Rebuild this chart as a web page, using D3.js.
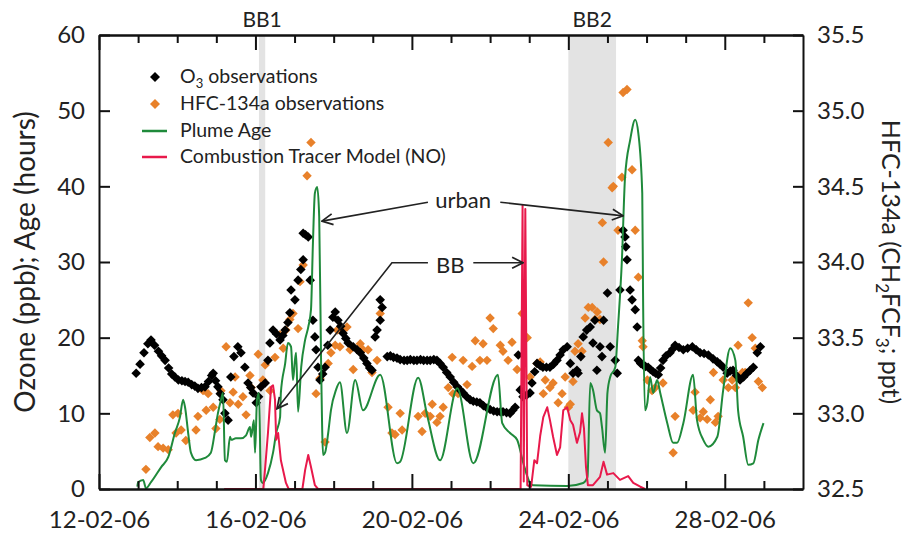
<!DOCTYPE html>
<html><head><meta charset="utf-8">
<script src="https://cdn.jsdelivr.net/npm/d3@7"></script>
<style>
body{margin:0;background:#fff}
svg{display:block;font-family:Lato,'Open Sans',sans-serif}
</style>
</head><body>
<svg id="c" width="909" height="535"></svg>
<script>
// ---------- data (day = fractional day of February 2006) ----------
const xMajorTicks = [12, 16, 20, 24, 28];
const xMinorTicks = [13,14,15,17,18,19,21,22,23,25,26,27,29];
const leftTicks = [0, 10, 20, 30, 40, 50, 60];
const rightTicks = [32.5, 33.0, 33.5, 34.0, 34.5, 35.0, 35.5];
const bbPeriods = [
  {label: "BB1", start: 16.09, end: 16.25},
  {label: "BB2", start: 24.0, end: 25.22}
];
const seriesNames = ["O3 observations", "HFC-134a observations", "Plume Age", "Combustion Tracer Model (NO)"];

const o3Obs = [[12.95,15.3],[13.05,16.5],[13.15,18.0],[13.25,19.2],[13.33,19.7],[13.42,19.0],[13.52,18.2],[13.6,17.6],[13.69,17.0],[13.78,16.0],[13.86,15.2],[13.94,14.8],[14.03,14.4],[14.12,14.3],[14.2,14.2],[14.28,14.1],[14.37,13.8],[14.45,13.6],[14.53,13.3],[14.62,13.4],[14.71,13.5],[14.8,14.2],[14.88,15.0],[14.92,15.3],[14.98,14.3],[15.04,13.5],[15.1,12.6],[15.17,11.8],[15.22,10.0],[15.3,9.1],[15.37,14.8],[15.45,17.5],[15.55,18.8],[15.63,18.0],[15.73,16.1],[15.81,14.0],[15.88,13.4],[15.94,12.7],[16.02,11.4],[16.08,12.2],[16.14,13.5],[16.25,14.0],[16.32,17.0],[16.37,19.3],[16.45,21.0],[16.54,20.5],[16.63,19.7],[16.7,20.3],[16.76,21.0],[16.83,22.0],[16.88,23.3],[16.91,26.3],[17.01,25.0],[17.09,27.6],[17.16,29.0],[17.22,30.3],[17.22,33.8],[17.28,33.6],[17.35,33.3],[17.4,27.6],[17.47,22.3],[17.52,20.1],[17.55,18.4],[17.6,16.1],[17.65,14.4],[17.72,15.2],[17.78,16.1],[17.85,19.0],[17.91,21.0],[17.98,22.7],[18.04,23.4],[18.11,22.3],[18.18,21.5],[18.24,20.6],[18.31,19.9],[18.37,19.3],[18.5,18.8],[18.6,18.4],[18.68,18.0],[18.77,17.3],[18.85,16.6],[18.92,16.0],[18.98,15.7],[19.06,20.1],[19.11,21.0],[19.19,22.3],[19.19,25.0],[19.24,24.0],
[19.37,17.5],[19.45,17.6],[19.53,17.4],[19.62,17.3],[19.7,17.1],[19.8,17.0],[19.88,17.0],[19.96,17.1],[20.05,17.0],[20.13,17.0],[20.22,17.1],[20.3,17.0],[20.39,17.0],[20.47,17.0],[20.56,17.1],[20.64,17.0],[20.72,16.6],[20.8,16.1],[20.89,15.4],[20.98,14.8],[21.07,14.1],[21.16,13.5],[21.23,13.1],[21.31,12.7],[21.4,12.2],[21.49,11.8],[21.57,11.6],[21.66,11.5],[21.74,11.4],[21.83,11.0],[21.92,10.7],[22.0,10.5],[22.09,10.3],[22.18,10.2],[22.26,10.2],[22.33,10.2],[22.42,10.1],[22.51,10.0],[22.58,10.4],[22.64,10.8],[22.72,17.7],[22.77,13.1],[22.84,12.2],[22.93,12.4],[23.02,12.7],[23.07,14.0],[23.14,15.5],[23.2,16.6],[23.28,16.3],[23.35,16.1],[23.44,16.1],[23.53,16.1],[23.62,16.5],[23.71,17.0],[23.79,17.7],[23.87,18.4],[23.97,18.8],[24.05,16.6],[24.12,15.3],[24.22,15.7],[24.25,15.3],[24.32,17.5],[24.38,20.1],[24.47,21.0],[24.56,21.4],[24.63,19.3],[24.68,22.3],[24.73,15.7],[24.81,18.8],[24.86,17.5],[24.9,22.3],[25.0,25.9],[25.07,18.8],[25.2,17.0],[25.25,15.3],[25.32,26.3],[25.4,34.2],[25.45,33.3],[25.47,32.0],[25.5,30.3],[25.58,26.3],[25.63,25.0],[25.71,23.7],[25.76,21.4],[25.79,17.0],[25.85,16.6],[25.91,16.4],[25.97,16.2],[26.04,16.1],[26.1,15.8],[26.17,15.5],[26.23,15.3],[26.3,15.1],[26.36,16.0],[26.42,17.0],[26.5,17.6],[26.6,18.0],[26.67,18.5],[26.73,19.0],[26.83,18.7],[26.94,18.4],[27.05,18.6],[27.17,18.8],[27.27,18.4],[27.37,18.0],[27.47,17.9],[27.58,17.7],[27.7,17.2],[27.81,16.8],[27.88,16.5],[27.96,16.1],[28.06,15.3],[28.14,15.6],[28.21,15.7],[28.3,15.0],[28.39,14.4],[28.48,14.8],[28.57,15.3],[28.65,15.7],[28.73,16.1],[28.83,18.0],[28.91,18.8]];

const hfcObs = [[13.2,32.63],[13.3,32.84],[13.43,32.87],[13.51,32.78],[13.64,32.77],[13.77,32.76],[13.89,32.99],[13.97,32.87],[14.02,33.0],[14.1,32.89],[14.22,32.82],[14.48,32.89],[14.53,32.98],[14.66,33.15],[14.74,33.02],[14.79,33.13],[14.92,33.04],[14.99,32.9],[15.09,32.96],[15.12,33.15],[15.25,33.44],[15.35,33.07],[15.43,33.14],[15.48,33.24],[15.56,33.06],[15.68,33.11],[15.76,32.99],[15.86,33.25],[15.89,33.17],[16.07,33.39],[16.19,33.22],[16.25,33.32],[16.37,33.15],[16.5,33.37],[16.63,33.52],[16.71,33.43],[16.78,33.55],[16.88,33.62],[16.96,33.66],[17.09,33.56],[17.14,33.87],[17.22,33.98],[17.32,34.57],[17.42,34.79],[17.55,33.13],[17.65,33.23],[17.78,32.81],[17.86,33.33],[17.93,33.4],[18.04,33.45],[18.09,33.55],[18.16,33.44],[18.24,33.55],[18.34,33.57],[18.42,33.42],[18.5,33.29],[18.68,33.46],[18.75,33.42],[18.88,33.42],[18.98,33.27],[19.11,33.35],[19.19,33.66],[19.39,33.04],[19.49,32.87],[19.57,32.86],[19.7,33.0],[19.75,32.89],[20.16,32.98],[20.26,32.88],[20.34,33.0],[20.47,32.98],[20.52,33.06],[20.64,32.94],[20.72,32.98],[20.8,33.04],[20.93,33.17],[21.03,33.37],[21.05,33.13],[21.18,33.13],[21.31,33.35],[21.41,33.19],[21.54,33.31],[21.62,33.48],[21.74,33.35],[21.82,33.46],[21.92,33.35],[22.0,33.63],[22.08,33.56],[22.26,33.45],[22.33,33.41],[22.46,33.35],[22.56,33.47],[22.69,33.29],[22.82,33.66],[22.95,33.5],[23.02,33.24],[23.2,33.33],[23.28,33.34],[23.36,33.13],[23.41,33.22],[23.53,33.17],[23.61,33.2],[23.74,33.07],[23.84,33.13],[23.92,33.24],[24.0,33.04],[24.05,33.06],[24.12,33.21],[24.17,33.41],[24.25,33.46],[24.35,33.41],[24.43,33.63],[24.51,33.7],[24.61,33.7],[24.68,33.62],[24.74,33.67],[24.81,33.62],[24.87,34.26],[24.9,34.0],[25.02,34.79],[25.12,34.49],[25.15,34.5],[25.27,34.21],[25.37,34.56],[25.4,35.12],[25.5,35.14],[25.63,34.61],[25.71,34.21],[25.79,33.9],[25.89,33.48],[25.91,33.44],[26.02,33.22],[26.14,33.15],[26.22,33.17],[26.42,33.2],[26.68,32.74],[26.73,32.98],[27.19,33.02],[27.24,33.14],[27.37,32.97],[27.45,33.01],[27.55,32.96],[27.63,33.09],[27.71,33.27],[27.76,32.94],[27.83,32.98],[27.96,33.22],[28.09,33.17],[28.19,33.22],[28.27,33.17],[28.34,33.45],[28.45,33.27],[28.52,33.27],[28.6,33.73],[28.7,33.5],[28.78,33.43],[28.86,33.21],[28.96,33.17]];

const plumeAge = [[12.98,0.3],[13.0,0.9],[13.13,1.2],[13.2,0.1],[13.33,0.9],[13.59,2.9],[13.77,4.2],[13.94,7.4],[14.07,9.5],[14.15,11.8],[14.2,10.8],[14.28,7.4],[14.35,4.8],[14.48,3.8],[14.71,4.1],[14.86,4.8],[14.97,7.8],[15.04,10.0],[15.12,11.8],[15.17,12.7],[15.22,3.8],[15.27,3.6],[15.35,6.9],[15.38,6.5],[15.5,6.7],[15.63,6.7],[15.76,7.1],[15.86,8.2],[15.89,6.9],[15.96,9.1],[15.99,4.8],[16.04,11.8],[16.09,12.7],[16.14,1.2],[16.19,0.8],[16.32,2.1],[16.45,4.8],[16.53,7.4],[16.63,9.5],[16.65,12.7],[16.76,16.6],[16.83,19.3],[16.91,18.8],[16.96,14.4],[17.01,17.0],[17.04,18.0],[17.09,10.2],[17.17,16.1],[17.27,19.7],[17.35,21.4],[17.42,23.7],[17.47,32.5],[17.52,39.1],[17.58,39.9],[17.63,36.0],[17.68,16.1],[17.73,4.5],[17.78,4.8],[17.86,7.4],[17.93,10.4],[18.06,13.1],[18.16,14.1],[18.34,7.4],[18.55,14.4],[18.75,10.4],[19.19,15.1],[19.62,3.4],[19.7,3.6],[20.16,14.7],[20.4,9.5],[20.72,3.8],[21.16,13.3],[21.57,3.4],[22.2,15.1],[22.31,8.7],[22.51,7.4],[22.69,6.5],[22.85,3.4],[23.02,0.8],[23.1,0.5],[23.97,0.4],[24.38,0.8],[24.49,1.6],[24.56,14.0],[24.63,13.1],[24.73,10.4],[24.81,10.0],[24.86,8.2],[24.94,4.8],[25.0,12.7],[25.07,14.8],[25.2,16.1],[25.27,21.4],[25.37,30.3],[25.45,41.2],[25.58,46.1],[25.71,48.8],[25.79,47.0],[25.89,39.1],[25.91,25.9],[25.96,10.4],[26.02,11.4],[26.09,14.8],[26.17,12.7],[26.27,14.4],[26.35,12.7],[26.53,8.7],[26.68,6.1],[26.78,6.1],[26.94,8.7],[27.19,15.1],[27.29,9.1],[27.45,6.5],[27.58,5.6],[27.81,6.9],[27.96,13.1],[28.14,18.6],[28.27,17.0],[28.34,10.4],[28.47,6.9],[28.6,3.2],[28.73,3.4],[28.86,6.5],[28.99,8.7]];

const combustionNO = [[15.2,0],[16.2,0],[16.25,2.9],[16.32,7.4],[16.4,13.5],[16.45,13.7],[16.5,11.8],[16.53,6.5],[16.58,7.4],[16.65,3.8],[16.78,0.8],[16.85,0],[17.2,0],[17.27,2.5],[17.35,4.5],[17.42,2.9],[17.52,0.5],[17.6,0],[22.78,0],[22.83,37.5],[22.86,1.0],[22.9,37.0],[22.95,0.5],[23.05,0.3],[23.13,3.8],[23.2,3.4],[23.28,7.0],[23.36,9.5],[23.46,10.8],[23.53,9.1],[23.61,6.9],[23.71,4.5],[23.79,5.5],[23.87,10.4],[23.97,10.8],[24.05,9.1],[24.12,8.5],[24.22,6.1],[24.3,7.5],[24.35,10.0],[24.4,8.0],[24.45,3.0],[24.5,0.5],[24.63,0.5],[24.81,1.6],[24.9,3.6],[24.99,1.9],[25.15,2.1],[25.32,1.2],[25.53,1.7],[25.66,0.8],[25.84,0.3],[25.96,0]];

const annotations = {
  urban: {text: "urban", day: 21.31, value: 37.2,
          arrows: [[[20.41, 37.9], [17.70, 35.4]], [[22.26, 37.9], [25.40, 36.1]]]},
  bb: {text: "BB", day: 20.98, value: 28.5,
       arrows: [[[21.57, 29.9], [22.84, 29.9]], [[20.41, 29.9], [19.49, 29.9], [16.55, 10.6]]]}
};

// ---------- setup ----------
const M = {left: 99, right: 803, top: 35, bottom: 489};
const day = d => new Date(Date.UTC(2006, 1, 1) + (d - 1) * 864e5);
const x = d3.scaleUtc().domain([day(12), day(30)]).range([M.left, M.right]);
const yL = d3.scaleLinear().domain([0, 60]).range([M.bottom, M.top]);
const yR = d3.scaleLinear().domain([32.5, 35.5]).range([M.bottom, M.top]);

const C = {o3: "#000000", hfc: "#E8812A", age: "#1F8A3B", no: "#E8194B", band: "#E3E3E3"};
const svg = d3.select("#c");

// arrow marker
svg.append("defs").append("marker")
  .attr("id", "arr").attr("viewBox", "0 0 12 12").attr("refX", 11).attr("refY", 6)
  .attr("markerWidth", 13).attr("markerHeight", 13).attr("markerUnits", "userSpaceOnUse")
  .attr("orient", "auto")
  .append("path").attr("d", "M1,1 L11,6 L1,11").attr("fill", "none").attr("stroke", "#222").attr("stroke-width", 1.6);

// bands
svg.append("g").selectAll("rect").data(bbPeriods).join("rect")
  .attr("x", d => x(day(d.start))).attr("width", d => x(day(d.end)) - x(day(d.start)))
  .attr("y", M.top).attr("height", M.bottom - M.top).attr("fill", C.band);
svg.append("g").selectAll("text").data(bbPeriods).join("text")
  .attr("x", d => (x(day(d.start)) + x(day(d.end))) / 2).attr("y", 27)
  .attr("text-anchor", "middle").attr("font-size", 21).attr("fill", "#222").text(d => d.label);

// diamonds
const diamond = r => `M0,${-r}L${r},0L0,${r}L${-r},0Z`;
svg.append("g").selectAll("path").data(hfcObs).join("path")
  .attr("d", diamond(4.7)).attr("fill", C.hfc)
  .attr("transform", d => `translate(${x(day(d[0]))},${yR(d[1])})`);
svg.append("g").selectAll("path").data(o3Obs).join("path")
  .attr("d", diamond(4.8)).attr("fill", C.o3)
  .attr("transform", d => `translate(${x(day(d[0]))},${yL(d[1])})`);

// lines
const lineSmooth = d3.line().curve(d3.curveMonotoneX).x(d => x(day(d[0]))).y(d => yL(d[1]));
const line = d3.line().x(d => x(day(d[0]))).y(d => yL(d[1]));
svg.append("path").datum(plumeAge).attr("d", lineSmooth).attr("fill", "none")
  .attr("stroke", C.age).attr("stroke-width", 2).attr("stroke-linejoin", "round");
svg.append("path").datum(combustionNO).attr("d", line).attr("fill", "none")
  .attr("stroke", C.no).attr("stroke-width", 2).attr("stroke-linejoin", "round");

// axes
const fmt = d3.utcFormat("%d-%m-%y");
function styleAxis(g, fs) {
  g.select(".domain").attr("stroke", "#111").attr("stroke-width", 2);
  g.selectAll(".tick line").attr("stroke", "#111").attr("stroke-width", 2);
  g.selectAll(".tick text").attr("font-size", fs).attr("fill", "#222").attr("font-family", "Lato,'Open Sans',sans-serif");
}
svg.append("g").attr("transform", `translate(0,${M.bottom})`)
  .call(d3.axisBottom(x).tickValues(xMajorTicks.map(day)).tickFormat(fmt).tickSizeInner(-15).tickSizeOuter(0).tickPadding(22))
  .call(g => styleAxis(g, 24));
svg.append("g").attr("transform", `translate(0,${M.bottom})`)
  .call(d3.axisBottom(x).tickValues(xMinorTicks.map(day)).tickFormat("").tickSizeInner(-8).tickSizeOuter(0))
  .call(g => styleAxis(g, 24));
svg.append("g").attr("transform", `translate(0,${M.top})`)
  .call(d3.axisTop(x).tickValues(xMajorTicks.map(day)).tickFormat("").tickSizeInner(-15).tickSizeOuter(0))
  .call(g => styleAxis(g, 24));
svg.append("g").attr("transform", `translate(0,${M.top})`)
  .call(d3.axisTop(x).tickValues(xMinorTicks.map(day)).tickFormat("").tickSizeInner(-8).tickSizeOuter(0))
  .call(g => styleAxis(g, 24));
svg.append("g").attr("transform", `translate(${M.left},0)`)
  .call(d3.axisLeft(yL).tickValues(leftTicks).tickSizeInner(-11).tickSizeOuter(0).tickPadding(14))
  .call(g => styleAxis(g, 24));
svg.append("g").attr("transform", `translate(${M.right},0)`)
  .call(d3.axisRight(yR).tickValues(rightTicks).tickFormat(d3.format(".1f")).tickSizeInner(-10).tickSizeOuter(0).tickPadding(14))
  .call(g => styleAxis(g, 24));

// axis titles
svg.append("text").attr("transform", `translate(35,${(M.top + M.bottom) / 2}) rotate(-90)`)
  .attr("text-anchor", "middle").attr("font-size", 28).attr("fill", "#222")
  .text("Ozone (ppb); Age (hours)");
const rt = svg.append("text").attr("transform", `translate(882,${(M.top + M.bottom) / 2}) rotate(90)`)
  .attr("text-anchor", "middle").attr("font-size", 25).attr("fill", "#222");
rt.append("tspan").text("HFC-134a (CH");
rt.append("tspan").attr("dy", 6).attr("font-size", 17).text("2");
rt.append("tspan").attr("dy", -6).text("FCF");
rt.append("tspan").attr("dy", 6).attr("font-size", 17).text("3");
rt.append("tspan").attr("dy", -6).text("; ppt)");

// legend
const lg = svg.append("g").attr("font-size", 19.5).attr("fill", "#222");
const rows = [77, 104, 131, 157];
lg.append("path").attr("d", diamond(5)).attr("fill", C.o3).attr("transform", `translate(155,${rows[0]})`);
lg.append("path").attr("d", diamond(5)).attr("fill", C.hfc).attr("transform", `translate(155,${rows[1]})`);
lg.append("line").attr("x1", 142).attr("x2", 167).attr("y1", rows[2]).attr("y2", rows[2]).attr("stroke", C.age).attr("stroke-width", 2.5);
lg.append("line").attr("x1", 142).attr("x2", 167).attr("y1", rows[3]).attr("y2", rows[3]).attr("stroke", C.no).attr("stroke-width", 2.5);
const t0 = lg.append("text").attr("x", 180).attr("y", rows[0] + 6);
t0.append("tspan").text("O");
t0.append("tspan").attr("dy", 5).attr("font-size", 13).text("3");
t0.append("tspan").attr("dy", -5).text(" observations");
seriesNames.slice(1).forEach((s, i) => lg.append("text").attr("x", 180).attr("y", rows[i + 1] + 6).text(s));

// annotations
const ag = svg.append("g");
const aLine = d3.line().x(p => x(day(p[0]))).y(p => yL(p[1]));
Object.values(annotations).forEach(a => {
  ag.append("text").attr("x", x(day(a.day))).attr("y", yL(a.value)).attr("text-anchor", "middle")
    .attr("font-size", 22).attr("fill", "#222").text(a.text);
  a.arrows.forEach(pts => {
    ag.append("path").attr("d", aLine(pts))
      .attr("fill", "none").attr("stroke", "#222").attr("stroke-width", 1.6).attr("marker-end", "url(#arr)");
  });
});
</script>
</body></html>
